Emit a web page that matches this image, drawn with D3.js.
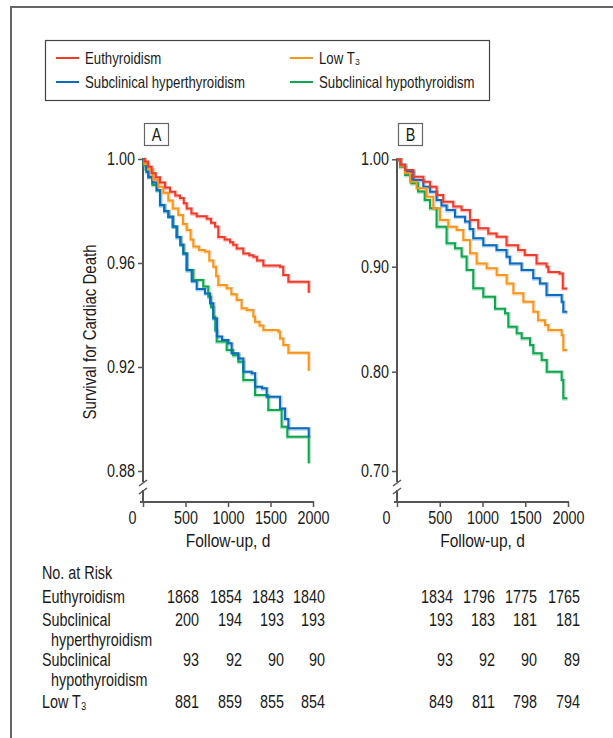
<!DOCTYPE html>
<html>
<head>
<meta charset="utf-8">
<script src="https://cdn.jsdelivr.net/npm/d3@7"></script>
<style>
  html, body { margin: 0; padding: 0; background: #fff; }
  svg { display: block; }
  text { font-family: "Liberation Sans", Arial, sans-serif; fill: #1a1a1a; }
</style>
</head>
<body>
<svg id="chart" width="613" height="738"></svg>
<script>
// ---------- DATA ----------
const seriesNames = ["Euthyroidism", "Low T\u2083", "Subclinical hyperthyroidism", "Subclinical hypothyroidism"];
const seriesColors = ["#ee3b2b", "#f7951e", "#0b6cbf", "#10a64f"];

const xTicks = [0, 500, 1000, 1500, 2000];
const yTicksA = [0.88, 0.92, 0.96, 1.00];
const yTicksB = [0.70, 0.80, 0.90, 1.00];

// Panel A: [days, survival]
const aEuthyroidism = [[0,1],[20,0.999],[60,0.997],[102,0.9945],[150,0.993],[200,0.991],[260,0.989],[318,0.9874],[380,0.986],[435,0.985],[480,0.983],[514,0.981],[570,0.979],[632,0.978],[749,0.977],[800,0.9755],[847,0.974],[886,0.970],[960,0.969],[1024,0.968],[1060,0.967],[1102,0.9656],[1180,0.9637],[1250,0.963],[1298,0.9624],[1340,0.961],[1416,0.959],[1612,0.9586],[1650,0.9554],[1710,0.9528],[1950,0.9486]];
const aLowT3 = [[0,1],[15,0.998],[60,0.996],[120,0.992],[180,0.9893],[240,0.987],[298,0.984],[350,0.981],[415,0.9785],[470,0.975],[514,0.9727],[560,0.969],[592,0.9663],[660,0.965],[729,0.9644],[780,0.961],[827,0.9586],[860,0.955],[886,0.9515],[985,0.9503],[1040,0.948],[1102,0.9458],[1160,0.9426],[1220,0.9419],[1298,0.9394],[1318,0.9374],[1370,0.936],[1416,0.9342],[1592,0.9336],[1612,0.931],[1651,0.9285],[1710,0.9255],[1950,0.9186]];
const aHyper = [[0,1],[10,0.998],[40,0.995],[62,0.993],[110,0.991],[161,0.988],[200,0.9823],[250,0.980],[298,0.9778],[350,0.974],[396,0.970],[440,0.967],[474,0.9637],[514,0.9573],[573,0.953],[632,0.950],[729,0.9483],[788,0.9445],[827,0.9387],[870,0.9317],[930,0.9304],[1004,0.9291],[1043,0.9253],[1122,0.9233],[1180,0.9182],[1278,0.9176],[1318,0.9124],[1400,0.9118],[1455,0.9086],[1612,0.904],[1671,0.900],[1710,0.8964],[1950,0.893]];
const aHypo = [[0,1],[8,0.9977],[30,0.996],[62,0.9932],[110,0.990],[161,0.988],[200,0.9823],[250,0.980],[298,0.9778],[350,0.974],[396,0.970],[440,0.967],[474,0.9637],[514,0.9573],[592,0.9535],[709,0.951],[768,0.947],[800,0.943],[827,0.9393],[850,0.934],[867,0.9298],[985,0.9265],[1060,0.9245],[1122,0.922],[1180,0.915],[1318,0.9092],[1474,0.9035],[1631,0.897],[1698,0.8932],[1950,0.883]];

// Panel B
const bEuthyroidism = [[0,1],[40,0.995],[94,0.990],[191,0.9838],[308,0.979],[386,0.9745],[463,0.9668],[541,0.9605],[658,0.956],[755,0.9528],[853,0.9435],[950,0.9358],[1067,0.931],[1164,0.928],[1281,0.920],[1416,0.9155],[1494,0.911],[1632,0.903],[1749,0.900],[1770,0.895],[1900,0.8936],[1939,0.8793],[1990,0.8793]];
const bLowT3 = [[0,1],[40,0.994],[94,0.987],[152,0.979],[230,0.973],[347,0.9652],[425,0.9544],[503,0.9435],[600,0.9372],[698,0.9342],[776,0.9249],[854,0.9125],[932,0.903],[1049,0.8985],[1166,0.892],[1283,0.884],[1361,0.8747],[1478,0.8667],[1595,0.857],[1650,0.849],[1731,0.8445],[1770,0.8397],[1926,0.835],[1945,0.8207],[1990,0.8207]];
const bHyper = [[0,1],[40,0.995],[94,0.9885],[191,0.9807],[308,0.9745],[386,0.9698],[463,0.962],[520,0.957],[580,0.9528],[678,0.9466],[795,0.942],[850,0.935],[892,0.9264],[1009,0.920],[1164,0.9155],[1281,0.9092],[1320,0.903],[1457,0.8969],[1593,0.889],[1671,0.8841],[1749,0.873],[1926,0.8667],[1945,0.857],[1990,0.857]];
const bHypo = [[0,1],[35,0.993],[94,0.9854],[168,0.9777],[246,0.970],[324,0.962],[386,0.9544],[463,0.9372],[580,0.9218],[678,0.9171],[756,0.9094],[814,0.8969],[892,0.8794],[1009,0.8714],[1146,0.860],[1263,0.8556],[1302,0.8429],[1400,0.8366],[1458,0.8318],[1556,0.8254],[1594,0.8175],[1692,0.8111],[1751,0.80],[1926,0.7917],[1945,0.7732],[1990,0.7732]];

// Number at risk
const riskRowLabels = [["Euthyroidism"], ["Subclinical", "hyperthyroidism"], ["Subclinical", "hypothyroidism"], ["Low T\u2083"]];
const riskA = [[1868,1854,1843,1840],[200,194,193,193],[93,92,90,90],[881,859,855,854]];
const riskB = [[1834,1796,1775,1765],[193,183,181,181],[93,92,90,89],[849,811,798,794]];

// ---------- DRAW ----------
const svg = d3.select("#chart");
const axisColor = "#555";

// outer frame
svg.append("path").attr("d", "M11,738 L11,7 L613,7")
  .attr("fill", "none").attr("stroke", "#666").attr("stroke-width", 2);

// legend
const lg = svg.append("g");
lg.append("rect").attr("x", 45.5).attr("y", 40.5).attr("width", 444).attr("height", 60)
  .attr("fill", "#fff").attr("stroke", "#444").attr("stroke-width", 1.2);
const legPos = [[56, 58], [290, 58], [56, 82], [290, 82]];
[0, 1, 2, 3].forEach((si, i) => {
  const [lx, ly] = legPos[i];
  lg.append("line").attr("x1", lx).attr("x2", lx + 23).attr("y1", ly).attr("y2", ly)
    .attr("stroke", seriesColors[si]).attr("stroke-width", 2);
  lg.append("text").attr("x", lx + 29).attr("y", ly + 6).attr("font-size", 16.5)
    .attr("data-n", 0.8).text(seriesNames[si]);
});

function panel(opts) {
  const { xRange, yScale, yTicks, data, name } = opts;
  const x = d3.scaleLinear().domain([0, 2000]).range(xRange);
  const y = yScale;
  const g = svg.append("g");
  const x0 = xRange[0];

  const yAxis = d3.axisLeft(y).tickValues(yTicks).tickSize(5).tickPadding(3).tickFormat(d3.format(".2f"));
  const ya = g.append("g").attr("transform", `translate(${x0},0)`).call(yAxis);
  ya.select(".domain").remove();
  ya.selectAll(".tick line").attr("stroke", axisColor).attr("stroke-width", 1.5);
  ya.selectAll(".tick text").attr("font-size", 17.5).attr("fill", "#1a1a1a").attr("data-n", 0.82)
    .style("font-family", '"Liberation Sans", Arial, sans-serif');

  const yTop = y(1.0);
  g.append("line").attr("x1", x0).attr("x2", x0).attr("y1", yTop - 1).attr("y2", 482)
    .attr("stroke", axisColor).attr("stroke-width", 2);
  g.append("line").attr("x1", x0).attr("x2", x0).attr("y1", 490).attr("y2", 502)
    .attr("stroke", axisColor).attr("stroke-width", 2);
  [[486, 480], [494, 488]].forEach(([a, b]) => {
    g.append("line").attr("x1", x0 - 4).attr("y1", a).attr("x2", x0 + 4).attr("y2", b)
      .attr("stroke", axisColor).attr("stroke-width", 1.5);
  });

  const xAxis = d3.axisBottom(x).tickValues(xTicks).tickSize(5).tickPadding(5).tickFormat(d3.format("d"));
  const xa = g.append("g").attr("transform", "translate(0,502)").call(xAxis);
  xa.select(".domain").remove();
  xa.selectAll(".tick line").attr("stroke", axisColor).attr("stroke-width", 1.5);
  xa.selectAll(".tick text").attr("font-size", 17.5).attr("fill", "#1a1a1a").attr("data-n", 0.82)
    .style("font-family", '"Liberation Sans", Arial, sans-serif')
    .attr("dx", d => d === 0 ? -11 : 0);
  g.append("line").attr("x1", x0 - 3).attr("x2", x(2000) + 1).attr("y1", 502).attr("y2", 502)
    .attr("stroke", axisColor).attr("stroke-width", 2);

  g.append("text").attr("x", (x(0) + x(2000)) / 2).attr("y", 547).attr("text-anchor", "middle")
    .attr("font-size", 18.5).attr("data-n", 0.84).text("Follow-up, d");

  g.append("rect").attr("x", x0 + 1.5).attr("y", 123.5).attr("width", 24).attr("height", 22)
    .attr("fill", "#fff").attr("stroke", "#666").attr("stroke-width", 1.2);
  g.append("text").attr("x", x0 + 13.5).attr("y", 141).attr("text-anchor", "middle")
    .attr("font-size", 17.5).text(name);

  const line = d3.line().x(d => x(d[0])).y(d => y(d[1])).curve(d3.curveStepAfter);
  const order = [3, 2, 1, 0];
  order.forEach(si => {
    g.append("path").datum(data[si]).attr("d", line).attr("fill", "none")
      .attr("stroke", seriesColors[si]).attr("stroke-opacity", 0.3).attr("stroke-width", 3.6)
      .attr("transform", "translate(0.6,0.6)");
  });
  order.forEach(si => {
    g.append("path").datum(data[si]).attr("d", line).attr("fill", "none")
      .attr("stroke", seriesColors[si]).attr("stroke-width", 2);
  });
}

panel({
  name: "A",
  xRange: [143, 313],
  yScale: d3.scaleLinear().domain([0.88, 1.00]).range([471, 159]),
  yTicks: yTicksA,
  data: [aEuthyroidism, aLowT3, aHyper, aHypo]
});
panel({
  name: "B",
  xRange: [397, 568],
  yScale: d3.scaleLinear().domain([0.70, 0.80, 0.90, 1.00]).range([471, 371.7, 266.7, 159.3]),
  yTicks: yTicksB,
  data: [bEuthyroidism, bLowT3, bHyper, bHypo]
});

svg.append("text").attr("transform", "translate(96,332) rotate(-90)").attr("text-anchor", "middle")
  .attr("font-size", 18.5).attr("data-n", 0.81).text("Survival for Cardiac Death");

// risk table
const tb = svg.append("g").attr("font-size", 17.5);
tb.append("text").attr("x", 42).attr("y", 579).text("No. at Risk");
const rowBase = [603, 626, 666, 708];
const colRightA = [199, 242, 284, 325];
const colRightB = [453, 495, 537, 580];
riskRowLabels.forEach((lines, r) => {
  lines.forEach((ln, k) => {
    tb.append("text").attr("x", k === 0 ? 42 : 51).attr("y", rowBase[r] + k * 20).text(ln);
  });
  riskA[r].forEach((v, c) => {
    tb.append("text").attr("x", colRightA[c]).attr("y", rowBase[r]).attr("text-anchor", "end").text(v);
  });
  riskB[r].forEach((v, c) => {
    tb.append("text").attr("x", colRightB[c]).attr("y", rowBase[r]).attr("text-anchor", "end").text(v);
  });
});

// condense all text horizontally (narrow sans look)
svg.selectAll("text").each(function () {
  const f = +(this.getAttribute("data-n") || 0.82);
  const L = this.getComputedTextLength();
  if (L > 0) {
    this.setAttribute("textLength", (L * f).toFixed(2));
    this.setAttribute("lengthAdjust", "spacingAndGlyphs");
  }
});
</script>
</body>
</html>
